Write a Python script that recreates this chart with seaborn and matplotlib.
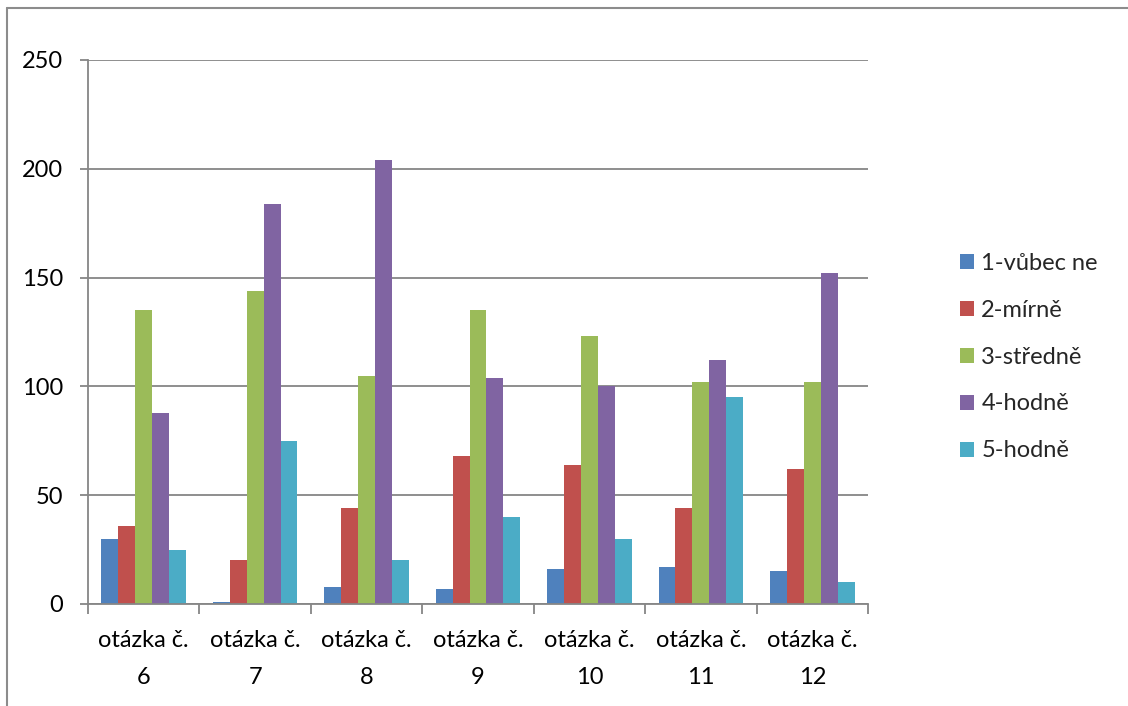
import numpy as np
import pandas as pd
import matplotlib
matplotlib.use("Agg")
import matplotlib.pyplot as plt
from matplotlib.lines import Line2D
import seaborn as sns

# data
otazky = ["otázka č.\n6", "otázka č.\n7", "otázka č.\n8", "otázka č.\n9",
          "otázka č.\n10", "otázka č.\n11", "otázka č.\n12"]
odpovedi = ["1-vůbec ne", "2-mírně", "3-středně", "4-hodně", "5-hodně"]
vubec_ne = [30, 1, 8, 7, 16, 17, 15]
mirne = [36, 20, 44, 68, 64, 44, 62]
stredne = [135, 144, 105, 135, 123, 102, 102]
hodne4 = [88, 184, 204, 104, 100, 112, 152]
hodne5 = [25, 75, 20, 40, 30, 95, 10]
barvy = ["#4F81BD", "#C0504D", "#9BBB59", "#8064A2", "#4BACC6"]

rows = []
for name, vals in zip(odpovedi, [vubec_ne, mirne, stredne, hodne4, hodne5]):
    for q, v in zip(otazky, vals):
        rows.append({"otazka": q, "odpoved": name, "pocet": v})
df = pd.DataFrame(rows)

sns.set_theme(style="white")
plt.rcParams['font.family'] = ['Lato', 'DejaVu Sans']

fig = plt.figure(figsize=(11.28, 7.06), dpi=100)
ax = fig.add_axes([88/1128, 102/706, 780/1128, 544/706])

sns.barplot(data=df, x="otazka", y="pocet", hue="odpoved", palette=barvy,
            width=0.76, saturation=1, linewidth=0, ax=ax)

grey = "#868686"
fs = 17
ax.set_ylim(0, 250)
ax.set_xlim(-0.5, len(otazky) - 0.5)
ax.set_yticks([0, 50, 100, 150, 200, 250])
ax.yaxis.grid(True, color=grey, linewidth=1.3)
ax.set_axisbelow(True)
ax.set_xlabel("")
ax.set_ylabel("")
for side in ["top", "right"]:
    ax.spines[side].set_visible(False)
for side in ["left", "bottom"]:
    ax.spines[side].set_color(grey)
    ax.spines[side].set_linewidth(1.3)

ax.tick_params(axis="y", which="major", left=True, length=6, width=1.3,
               color=grey, pad=12, labelsize=fs, labelcolor="black")
ax.set_xticks(np.arange(-0.5, len(otazky), 1), minor=True)
ax.tick_params(axis="x", which="minor", bottom=True, length=7, width=1.3,
               color=grey)
ax.tick_params(axis="x", which="major", bottom=False, length=0, pad=19,
               labelsize=fs, labelcolor="black")
for lab in ax.get_xticklabels():
    lab.set_linespacing(1.9)

handles, labels = ax.get_legend_handles_labels()
ax.legend(handles, labels, loc="center left",
          bbox_to_anchor=(960/1128, 1 - 357/706), bbox_transform=fig.transFigure,
          frameon=False, fontsize=fs, handlelength=0.6, handleheight=0.6,
          handletextpad=0.3, labelspacing=1.1, borderpad=0, borderaxespad=0)

# chart-area border (left and top edges visible)
fig.add_artist(Line2D([7/1128, 7/1128], [0, 1 - 8/706], color="#8c8c8c",
                      linewidth=1.5, transform=fig.transFigure))
fig.add_artist(Line2D([7/1128, 1], [1 - 8/706, 1 - 8/706], color="#8c8c8c",
                      linewidth=1.5, transform=fig.transFigure))

plt.savefig("out.png", dpi=100)
